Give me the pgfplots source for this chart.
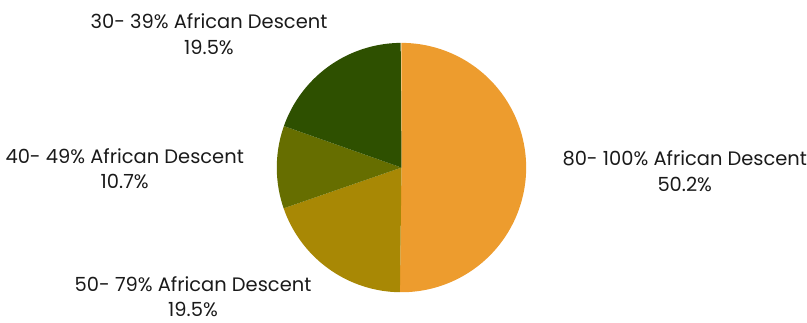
\documentclass[border=0pt]{standalone}
\usepackage{pgfplots}
\pgfplotsset{compat=1.18}
\usepackage{fontspec}
\setmainfont{Poppins}
\definecolor{cA}{HTML}{ED9C2E}
\definecolor{cB}{HTML}{A88805}
\definecolor{cC}{HTML}{666E00}
\definecolor{cD}{HTML}{2E5000}
\definecolor{txt}{HTML}{1A1A1A}
\tikzset{lbl/.style={font=\fontsize{19.5}{25.5}\selectfont, text=txt, align=center, inner sep=0pt}}
% shares (%), clockwise from top
\def\pA{50.2}\def\pB{19.5}\def\pC{10.7}\def\pD{19.5}
\begin{document}
\begin{tikzpicture}
\pgfmathsetmacro\aA{90}
\pgfmathsetmacro\aB{\aA-3.6*\pA}
\pgfmathsetmacro\aC{\aB-3.6*\pB}
\pgfmathsetmacro\aD{\aC-3.6*\pC}
\pgfmathsetmacro\aE{\aD-3.6*\pD}
\begin{axis}[
  x=125pt, y=125pt,
  xmin=-3.22, xmax=3.236, ymin=-1.24, ymax=1.344,
  hide axis, clip=false,
]
\path (rel axis cs:0,0) (rel axis cs:1,1);
\addplot[fill=cA, draw=none, domain=\aB:\aA, samples=120, variable=\t] ({cos(\t)},{sin(\t)}) -- (axis cs:0,0) -- cycle;
\addplot[fill=cB, draw=none, domain=\aC:\aB, samples=60, variable=\t] ({cos(\t)},{sin(\t)}) -- (axis cs:0,0) -- cycle;
\addplot[fill=cC, draw=none, domain=\aD:\aC, samples=40, variable=\t] ({cos(\t)},{sin(\t)}) -- (axis cs:0,0) -- cycle;
\addplot[fill=cD, draw=none, domain=\aE:\aD, samples=60, variable=\t] ({cos(\t)},{sin(\t)}) -- (axis cs:0,0) -- cycle;
\node[lbl] at (axis cs:-1.544,1.07) {30- 39\% African Descent\\19.5\%};
\node[lbl] at (axis cs:-2.22,-0.01) {40- 49\% African Descent\\10.7\%};
\node[lbl] at (axis cs:-1.672,-1.035) {50- 79\% African Descent\\19.5\%};
\node[lbl] at (axis cs:2.272,-0.03) {80- 100\% African Descent\\50.2\%};
\end{axis}
\end{tikzpicture}
\end{document}
